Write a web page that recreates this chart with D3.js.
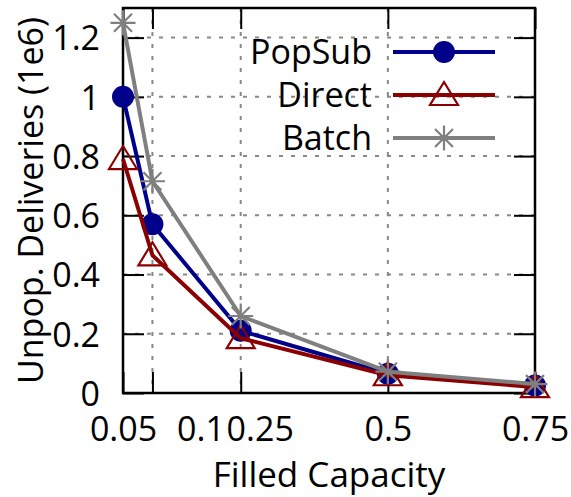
<!DOCTYPE html>
<html>
<head>
<meta charset="utf-8">
<script src="https://cdn.jsdelivr.net/npm/d3@7"></script>
<style>
  body { margin: 0; background: #fff; }
  text { font-family: "Open Sans", sans-serif; fill: #000; }
</style>
</head>
<body>
<svg id="vis" width="571" height="497"></svg>
<script>
// data
const capacity = [0.05, 0.1, 0.25, 0.5, 0.75];
const xTicks = [0.05, 0.1, 0.25, 0.5, 0.75];
const yTicks = [0, 0.2, 0.4, 0.6, 0.8, 1, 1.2];
const popsub = [1.0, 0.57, 0.21, 0.065, 0.025];
const direct = [0.79, 0.465, 0.185, 0.06, 0.02];
const batch = [1.25, 0.715, 0.26, 0.072, 0.03];
const seriesNames = ["PopSub", "Direct", "Batch"];

const box = { left: 123, right: 535, top: 8, bottom: 393 };
const fontSize = 34;

translate = function(a, b) {
  return "translate(" + a + ", " + b + ")";
}

const svg = d3.select("#vis");

const x = d3.scaleLinear().domain([0.05, 0.75]).range([box.left, box.right]);
const y = d3.scaleLinear().domain([0, 1.3]).range([box.bottom, box.top]);

const series = [
  { name: seriesNames[0], values: popsub, color: "#00008b", marker: "circle" },
  { name: seriesNames[1], values: direct, color: "#8b0000", marker: "triangle" },
  { name: seriesNames[2], values: batch, color: "#7f7f7f", marker: "star" }
];

// grid
let grid = svg.append("g").attr("class", "grid")
  .attr("stroke", "#888").attr("stroke-width", 2).attr("stroke-dasharray", "4,8");
grid.selectAll("line.gy")
  .data(yTicks.filter(d => d > 0))
  .enter().append("line")
  .attr("x1", box.left).attr("x2", box.right)
  .attr("y1", d => y(d)).attr("y2", d => y(d));
grid.selectAll("line.gx")
  .data(xTicks.filter(d => d > 0.05 && d < 0.75))
  .enter().append("line")
  .attr("x1", d => x(d)).attr("x2", d => x(d))
  .attr("y1", box.top).attr("y2", box.bottom);

// axes with inward ticks
const tickLen = 21;
let bottomAxis = svg.append("g").attr("transform", translate(0, box.bottom))
  .call(d3.axisBottom(x).tickValues(xTicks).tickSizeInner(-tickLen).tickSizeOuter(0)
    .tickPadding(24).tickFormat(d3.format("")));
let topAxis = svg.append("g").attr("transform", translate(0, box.top))
  .call(d3.axisTop(x).tickValues(xTicks).tickSizeInner(-tickLen).tickSizeOuter(0).tickFormat(""));
let leftAxis = svg.append("g").attr("transform", translate(box.left, 0))
  .call(d3.axisLeft(y).tickValues(yTicks).tickSizeInner(-tickLen).tickSizeOuter(0)
    .tickPadding(tickLen + 2).tickFormat(d3.format("")));
let rightAxis = svg.append("g").attr("transform", translate(box.right, 0))
  .call(d3.axisRight(y).tickValues(yTicks).tickSizeInner(-tickLen).tickSizeOuter(0).tickFormat(""));

[bottomAxis, topAxis, leftAxis, rightAxis].forEach(function(a) {
  a.select(".domain").remove();
  a.selectAll(".tick line").attr("stroke", "#000").attr("stroke-width", 2);
  a.selectAll(".tick text").style("font-size", fontSize + "px").attr("fill", "#000");
});
leftAxis.selectAll(".tick text").attr("dy", "0.36em");

// the 0.1 and 0.25 labels sit crowded to the right in the original
bottomAxis.selectAll(".tick text")
  .attr("dx", function(d) {
    if (d == 0.1) return 48;
    if (d == 0.25) return 19;
    return 0;
  });

// frame
svg.append("rect")
  .attr("x", box.left).attr("y", box.top)
  .attr("width", box.right - box.left).attr("height", box.bottom - box.top)
  .attr("fill", "none").attr("stroke", "#000").attr("stroke-width", 2.5);

// marker drawing
function drawMarker(g, type, color) {
  if (type == "circle") {
    g.append("circle").attr("r", 11).attr("fill", color);
  } else if (type == "triangle") {
    g.append("path")
      .attr("d", "M0,-13L14,10L-14,10Z")
      .attr("fill", "none").attr("stroke", color).attr("stroke-width", 2.2);
  } else {
    const r = 12.5;
    g.append("path")
      .attr("d", "M" + -r + ",0L" + r + ",0M0," + -r + "L0," + r +
        "M" + -r * 0.72 + "," + -r * 0.72 + "L" + r * 0.72 + "," + r * 0.72 +
        "M" + -r * 0.72 + "," + r * 0.72 + "L" + r * 0.72 + "," + -r * 0.72)
      .attr("stroke", color).attr("stroke-width", 2.2);
  }
}

const line = d3.line().x((d, i) => x(capacity[i])).y(d => y(d));

let plot = svg.append("g").attr("id", "plot");
series.forEach(function(s) {
  let g = plot.append("g");
  g.append("path")
    .attr("d", line(s.values))
    .attr("fill", "none").attr("stroke", s.color).attr("stroke-width", 4)
    .attr("stroke-linejoin", "round");
  s.values.forEach(function(v, i) {
    let m = g.append("g").attr("transform", translate(x(capacity[i]), y(v)));
    drawMarker(m, s.marker, s.color);
  });
});

// legend
const legendRows = [52, 95, 138];
let legend = svg.append("g").attr("class", "legend");
series.forEach(function(s, i) {
  let row = legend.append("g").attr("transform", translate(0, legendRows[i]));
  row.append("text")
    .attr("x", 372).attr("dy", "0.36em")
    .attr("text-anchor", "end")
    .style("font-size", fontSize + "px")
    .text(s.name);
  row.append("line")
    .attr("x1", 393).attr("x2", 495)
    .attr("stroke", s.color).attr("stroke-width", 4);
  let m = row.append("g").attr("transform", translate(444, 0));
  drawMarker(m, s.marker, s.color);
});

// axis titles
svg.append("text")
  .attr("x", (box.left + box.right) / 2).attr("y", 487)
  .attr("text-anchor", "middle")
  .style("font-size", "35px")
  .text("Filled Capacity");

svg.append("text")
  .attr("transform", translate(43, (box.top + box.bottom) / 2) + " rotate(-90)")
  .attr("text-anchor", "middle")
  .style("font-size", fontSize + "px")
  .text("Unpop. Deliveries (1e6)");
</script>
</body>
</html>
